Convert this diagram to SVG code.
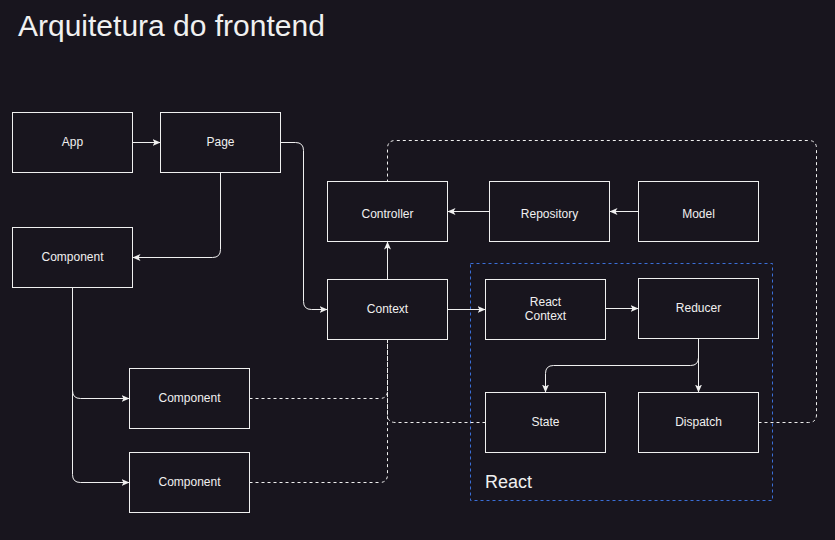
<svg xmlns="http://www.w3.org/2000/svg" width="835" height="540" viewBox="0 0 835 540">
<defs>
<marker id="arr" markerUnits="userSpaceOnUse" markerWidth="10" markerHeight="10" refX="8" refY="4" orient="auto">
<path d="M0,0.5 L8,4 L0,7.5 L2,4 Z" fill="#f0f0f0"/>
</marker>
<style>
.bg{fill:#18151e}
.box{fill:#18151e;stroke:#f0f0f0;stroke-width:1}
.lbl{font-family:"Liberation Sans",Arial,sans-serif;font-size:12px;fill:#f0f0f0;text-anchor:middle}
.edge{fill:none;stroke:#f0f0f0;stroke-width:1;marker-end:url(#arr)}
.dash{fill:none;stroke:#f0f0f0;stroke-width:1;stroke-dasharray:3 3}
</style>
</defs>
<rect class="bg" x="0" y="0" width="835" height="540"/>
<text x="18" y="36" font-family="Liberation Sans, Arial, sans-serif" font-size="30" fill="#f0f0f0">Arquitetura do frontend</text>

<g id="react-group">
<rect x="470.5" y="263.5" width="302" height="237" fill="none" stroke="#3a6fd8" stroke-width="1" stroke-dasharray="3 3"/>
<text x="485" y="488" font-family="Liberation Sans, Arial, sans-serif" font-size="18" fill="#f0f0f0">React</text>
</g>

<g id="connectors">
<path class="edge" d="M132.5,142.5 H160.5"/>
<path class="edge" d="M220.5,172.5 V249.5 Q220.5,257.5 212.5,257.5 H132.5"/>
<path class="edge" d="M280.5,142.5 H295.5 Q303.5,142.5 303.5,150.5 V301.5 Q303.5,309.5 311.5,309.5 H327.5"/>
<path class="edge" d="M387.5,279.5 V241.5"/>
<path class="edge" d="M489.5,211.5 H447.5"/>
<path class="edge" d="M638.5,211.5 H609.5"/>
<path class="edge" d="M447.5,309.5 H485.5"/>
<path class="edge" d="M605.5,308.5 H638.5"/>
<path class="edge" d="M698.5,338.5 V392.5"/>
<path class="edge" d="M698.5,338.5 V357.5 Q698.5,365.5 690.5,365.5 H553.5 Q545.5,365.5 545.5,373.5 V392.5"/>
<path class="edge" d="M72.5,287.5 V390.5 Q72.5,398.5 80.5,398.5 H129.5"/>
<path class="edge" d="M72.5,287.5 V474.5 Q72.5,482.5 80.5,482.5 H129.5"/>
<path class="dash" d="M249.5,398.5 H379.5 Q387.5,398.5 387.5,390.5 V339.5"/>
<path class="dash" d="M249.5,482.5 H379.5 Q387.5,482.5 387.5,474.5 V339.5"/>
<path class="dash" d="M485.5,422.5 H395.5 Q387.5,422.5 387.5,414.5 V339.5"/>
<path class="dash" d="M758.5,422.5 H808.5 Q816.5,422.5 816.5,414.5 V148.5 Q816.5,140.5 808.5,140.5 H395.5 Q387.5,140.5 387.5,148.5 V181.5"/>
</g>

<g id="app"><rect class="box" x="12.5" y="112.5" width="120" height="60"/><text class="lbl" x="72.5" y="146">App</text></g>
<g id="page"><rect class="box" x="160.5" y="112.5" width="120" height="60"/><text class="lbl" x="220.5" y="146">Page</text></g>
<g id="component1"><rect class="box" x="12.5" y="227.5" width="120" height="60"/><text class="lbl" x="72.5" y="261">Component</text></g>
<g id="controller"><rect class="box" x="327.5" y="181.5" width="120" height="60"/><text class="lbl" x="387.5" y="218">Controller</text></g>
<g id="repository"><rect class="box" x="489.5" y="181.5" width="120" height="60"/><text class="lbl" x="549.5" y="218">Repository</text></g>
<g id="model"><rect class="box" x="638.5" y="181.5" width="120" height="60"/><text class="lbl" x="698.5" y="218">Model</text></g>
<g id="context"><rect class="box" x="327.5" y="279.5" width="120" height="60"/><text class="lbl" x="387.5" y="313">Context</text></g>
<g id="react-context"><rect class="box" x="485.5" y="279.5" width="120" height="60"/><text class="lbl" x="545.5" y="305.5">React</text><text class="lbl" x="545.5" y="320">Context</text></g>
<g id="reducer"><rect class="box" x="638.5" y="278.5" width="120" height="60"/><text class="lbl" x="698.5" y="312">Reducer</text></g>
<g id="state"><rect class="box" x="485.5" y="392.5" width="120" height="60"/><text class="lbl" x="545.5" y="426">State</text></g>
<g id="dispatch"><rect class="box" x="638.5" y="392.5" width="120" height="60"/><text class="lbl" x="698.5" y="426">Dispatch</text></g>
<g id="component2"><rect class="box" x="129.5" y="368.5" width="120" height="60"/><text class="lbl" x="189.5" y="402">Component</text></g>
<g id="component3"><rect class="box" x="129.5" y="452.5" width="120" height="60"/><text class="lbl" x="189.5" y="486">Component</text></g>
</svg>
